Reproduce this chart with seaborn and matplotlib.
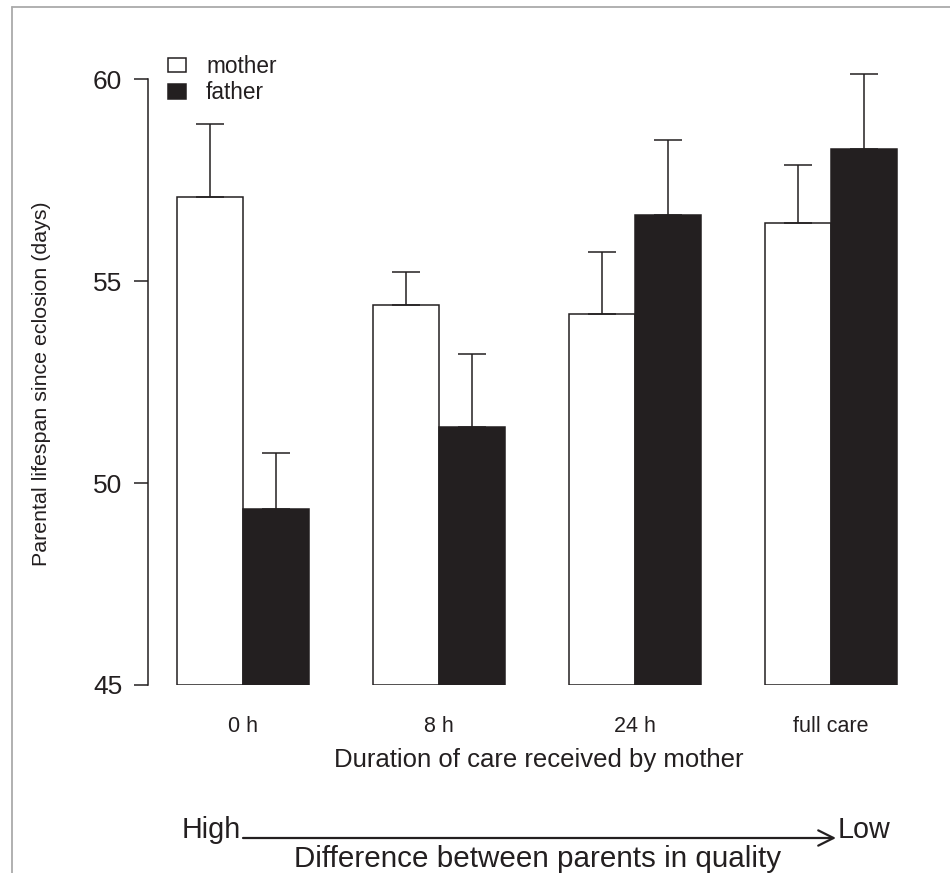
import matplotlib
matplotlib.use("Agg")
import matplotlib.pyplot as plt
from matplotlib.lines import Line2D
from matplotlib.container import BarContainer
import seaborn as sns
import pandas as pd
import numpy as np

# ---- data ----
categories = ["0 h", "8 h", "24 h", "full care"]
parents = ["mother", "father"]
mother_mean = [57.08, 54.40, 54.18, 56.44]
father_mean = [49.36, 51.39, 56.64, 58.26]
mother_upper = [58.90, 55.22, 55.72, 57.88]
father_upper = [50.74, 53.20, 58.50, 60.13]
y_ticks = [45, 50, 55, 60]

INK = "#231f20"

sns.set_style("ticks")
plt.rcParams["font.family"] = ["Liberation Sans", "DejaVu Sans"]
plt.rcParams["text.color"] = INK
plt.rcParams["axes.labelcolor"] = INK
plt.rcParams["xtick.color"] = INK
plt.rcParams["ytick.color"] = INK

df = pd.DataFrame({
    "care": categories * 2,
    "parent": ["mother"] * 4 + ["father"] * 4,
    "lifespan": mother_mean + father_mean,
})

W, H = 950, 873
fig = plt.figure(figsize=(W / 100, H / 100), dpi=100)
ax_left, ax_right = 148, 929
ax_top, ax_bot = 67, 685
ax = fig.add_axes([ax_left / W, 1 - ax_bot / H, (ax_right - ax_left) / W, (ax_bot - ax_top) / H])

sns.barplot(data=df, x="care", y="lifespan", hue="parent", hue_order=parents,
            order=categories, palette={"mother": "white", "father": INK},
            edgecolor=INK, linewidth=1.1, width=0.673, gap=0, errorbar=None,
            saturation=1, ax=ax)

base = 45
ax.set_ylim(base, 60.3)
ax.set_xlim((ax_left - 243) / 196, 3 + (ax_right - 831) / 196)

uppers = [mother_upper, father_upper]
means = [mother_mean, father_mean]
bar_conts = [c for c in ax.containers if isinstance(c, BarContainer)]
for ci, cont in enumerate(bar_conts):
    xs = []
    for bar in cont:
        h = bar.get_height()
        bar.set_y(base)
        bar.set_height(h - base)
        xs.append(bar.get_x() + bar.get_width() / 2)
    m = np.array(means[ci])
    u = np.array(uppers[ci])
    ax.errorbar(xs, m, yerr=[np.zeros_like(m), u - m], fmt="none",
                ecolor=INK, elinewidth=1.1, capsize=10, capthick=1.1, zorder=1)

# axes styling
for s in ["top", "right", "bottom"]:
    ax.spines[s].set_visible(False)
ax.spines["left"].set_bounds(45, 60)
ax.spines["left"].set_color(INK)
ax.spines["left"].set_linewidth(1.1)
ax.set_yticks(y_ticks)
ax.tick_params(axis="y", length=10, width=1.1, labelsize=19, pad=8.6)
ax.tick_params(axis="x", length=0, labelsize=15.5, pad=22)
ax.set_ylabel("Parental lifespan since eclosion (days)", fontsize=15.4)
ax.yaxis.set_label_coords((51 - ax_left) / (ax_right - ax_left), (ax_bot - 384) / (ax_bot - ax_top))
ax.set_xlabel("Duration of care received by mother", fontsize=18.5, labelpad=8.5)

# legend
handles, labels = ax.get_legend_handles_labels()
leg = ax.legend(handles, labels, loc="upper left", bbox_to_anchor=(168 / W, 1 - 55 / H),
                bbox_transform=fig.transFigure, frameon=False, fontsize=16.3,
                handlelength=0.8, handleheight=0.62, handletextpad=0.88, labelspacing=0.14,
                borderpad=0, borderaxespad=0)

# bottom annotation
arrow_y = 1 - 838 / H
fig.text(241 / W, arrow_y, "High", ha="right", va="baseline", fontsize=20.7)
fig.text(838 / W, arrow_y, "Low", ha="left", va="baseline", fontsize=20.7)
fig.text(538 / W, 1 - 867 / H, "Difference between parents in quality", ha="center",
         va="baseline", fontsize=21.3)
ax.annotate("", xy=(836 / W, arrow_y), xytext=(243 / W, arrow_y), xycoords="figure fraction",
            textcoords="figure fraction",
            arrowprops=dict(arrowstyle="->,head_length=1.1,head_width=0.55", color=INK,
                            lw=1.6, shrinkA=0, shrinkB=0))

# figure border lines (top and left)
fig.add_artist(Line2D([12 / W, 12 / W], [0, 1 - 7 / H], color="#aaaaaa", lw=1.3,
                      transform=fig.transFigure))
fig.add_artist(Line2D([12 / W, 1], [1 - 7 / H, 1 - 7 / H], color="#aaaaaa", lw=1.3,
                      transform=fig.transFigure))

fig.savefig("out.png", dpi=100)
